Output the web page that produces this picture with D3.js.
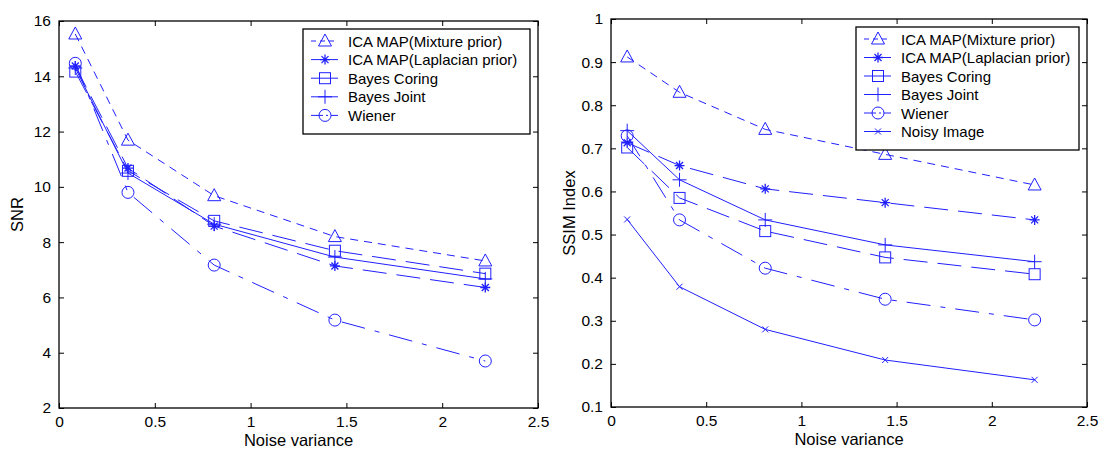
<!DOCTYPE html>
<html>
<head>
<meta charset="utf-8">
<script src="https://cdn.jsdelivr.net/npm/d3@7"></script>
<style>
  body { margin: 0; background: #fff; }
  svg { font-family: "Liberation Sans", Arial, sans-serif; }
</style>
</head>
<body>
<svg id="chart" width="1101" height="450"></svg>
<script>
const BLUE = '#2020ff';

// noise variance (x values, shared by both panels)
const noiseVar = [0.085, 0.36, 0.81, 1.44, 2.225];

// left panel: SNR
const snrMixture   = [15.53, 11.69, 9.68, 8.20, 7.32];
const snrLaplacian = [14.37, 10.68, 8.58, 7.14, 6.36];
const snrCoring    = [14.17, 10.58, 8.77, 7.69, 6.86];
const snrJoint     = [14.30, 10.50, 8.65, 7.46, 6.67];
const snrWiener    = [14.47, 9.80, 7.17, 5.18, 3.70];

// right panel: SSIM index
const ssimMixture   = [0.912, 0.830, 0.744, 0.686, 0.615];
const ssimLaplacian = [0.713, 0.660, 0.606, 0.574, 0.534];
const ssimCoring    = [0.702, 0.585, 0.508, 0.447, 0.408];
const ssimJoint     = [0.741, 0.627, 0.534, 0.476, 0.437];
const ssimWiener    = [0.729, 0.534, 0.422, 0.350, 0.302];
const ssimNoisy     = [0.535, 0.379, 0.280, 0.209, 0.163];

const xTicks = [0, 0.5, 1, 1.5, 2, 2.5];
const snrTicks = [2, 4, 6, 8, 10, 12, 14, 16];
const ssimTicks = [0.1, 0.2, 0.3, 0.4, 0.5, 0.6, 0.7, 0.8, 0.9, 1];

// line style + marker per method
const styles = {
    mixture:   { name: 'ICA MAP(Mixture prior)',   dash: '8,6',         legendDash: '5,4',       marker: 'triangle' },
    laplacian: { name: 'ICA MAP(Laplacian prior)', dash: '24,10',       legendDash: null,        marker: 'star' },
    coring:    { name: 'Bayes Coring',             dash: '24,10',       legendDash: null,        marker: 'square' },
    joint:     { name: 'Bayes Joint',              dash: null,          legendDash: null,        marker: 'plus' },
    wiener:    { name: 'Wiener',                   dash: '24,10,5,10',  legendDash: '12,3,2,3',  marker: 'circle' },
    noisy:     { name: 'Noisy Image',              dash: null,          legendDash: null,        marker: 'x' }
};

const svg = d3.select('#chart');

function drawMarker(g, type, cx, cy) {
    const m = g.append('g').attr('transform', `translate(${cx},${cy})`)
        .attr('fill', 'none').attr('stroke', BLUE).attr('stroke-width', 1);
    if (type === 'triangle') {
        m.append('path').attr('d', 'M0,-7L6.5,5L-6.5,5Z');
    } else if (type === 'square') {
        m.append('rect').attr('x', -5.5).attr('y', -5.5).attr('width', 11).attr('height', 11);
    } else if (type === 'circle') {
        m.append('circle').attr('r', 6);
    } else if (type === 'plus') {
        m.append('path').attr('d', 'M-7,0H7M0,-7V7');
    } else if (type === 'star') {
        m.append('path').attr('d', 'M-5,0H5M0,-5V5M-3.5,-3.5L3.5,3.5M-3.5,3.5L3.5,-3.5')
            .attr('stroke-width', 1.3);
    } else if (type === 'x') {
        m.append('path').attr('d', 'M-3,-3L3,3M-3,3L3,-3');
    }
}

function panel(opts) {
    const { left, right, top, bottom, yDomain, yTicks, yFmt, ylabel, series, legend } = opts;
    const x = d3.scaleLinear().domain([0, 2.5]).range([left, right]);
    const y = d3.scaleLinear().domain(yDomain).range([bottom, top]);
    const g = svg.append('g');

    // ticks inside the box on all four sides
    const axB = d3.axisBottom(x).tickValues(xTicks).tickSizeInner(-5).tickSizeOuter(0)
        .tickPadding(8).tickFormat(d3.format('~g'));
    const axT = d3.axisTop(x).tickValues(xTicks).tickSizeInner(-5).tickSizeOuter(0).tickFormat('');
    const axL = d3.axisLeft(y).tickValues(yTicks).tickSizeInner(-5).tickSizeOuter(0)
        .tickPadding(8).tickFormat(yFmt);
    const axR = d3.axisRight(y).tickValues(yTicks).tickSizeInner(-5).tickSizeOuter(0).tickFormat('');

    [[axB, `translate(0,${bottom})`], [axT, `translate(0,${top})`],
     [axL, `translate(${left},0)`], [axR, `translate(${right},0)`]].forEach(([ax, tr]) => {
        const a = g.append('g').attr('transform', tr).call(ax);
        a.select('.domain').remove();
        a.selectAll('line').attr('stroke', '#000');
        a.selectAll('text').attr('fill', '#000').style('font-size', '15.5px')
            .style('font-family', '"Liberation Sans", Arial, sans-serif');
    });

    g.append('rect').attr('x', left).attr('y', top)
        .attr('width', right - left).attr('height', bottom - top)
        .attr('fill', 'none').attr('stroke', '#000').attr('stroke-width', 1.3);

    g.append('text').attr('x', (left + right) / 2).attr('y', bottom + 38)
        .attr('text-anchor', 'middle').style('font-size', '16.5px').text('Noise variance');
    g.append('text').attr('transform', `translate(${left - 36},${(top + bottom) / 2}) rotate(-90)`)
        .attr('text-anchor', 'middle').style('font-size', '16.5px').text(ylabel);

    const line = d3.line().x(d => x(d[0])).y(d => y(d[1]));
    series.forEach(s => {
        const st = styles[s.key];
        const pts = noiseVar.map((v, i) => [v, s.values[i]]);
        g.append('path').datum(pts).attr('d', line)
            .attr('fill', 'none').attr('stroke', BLUE).attr('stroke-width', 1)
            .attr('stroke-dasharray', st.dash);
        pts.forEach(p => drawMarker(g, st.marker, x(p[0]), y(p[1])));
    });

    // legend
    const lg = g.append('g');
    const rows = series.length;
    lg.append('rect').attr('x', legend.x).attr('y', legend.y)
        .attr('width', legend.w).attr('height', 12 + rows * legend.step)
        .attr('fill', '#fff').attr('stroke', '#000').attr('stroke-width', 1.3);
    series.forEach((s, i) => {
        const st = styles[s.key];
        const cy = legend.y + 12 + i * legend.step;
        lg.append('line').attr('x1', legend.x + 8).attr('x2', legend.x + 35)
            .attr('y1', cy).attr('y2', cy).attr('stroke', BLUE).attr('stroke-width', 1)
            .attr('stroke-dasharray', st.legendDash);
        drawMarker(lg, st.marker, legend.x + 22, cy);
        lg.append('text').attr('x', legend.x + 45).attr('y', cy + 5.5)
            .style('font-size', '15px').text(st.name);
    });
}

panel({
    left: 59, right: 538, top: 21, bottom: 408,
    yDomain: [2, 16], yTicks: snrTicks, yFmt: d3.format('d'), ylabel: 'SNR',
    series: [
        { key: 'mixture', values: snrMixture },
        { key: 'laplacian', values: snrLaplacian },
        { key: 'coring', values: snrCoring },
        { key: 'joint', values: snrJoint },
        { key: 'wiener', values: snrWiener }
    ],
    legend: { x: 303, y: 29, w: 227, step: 18.6 }
});

panel({
    left: 611, right: 1087, top: 19, bottom: 407,
    yDomain: [0.1, 1], yTicks: ssimTicks, yFmt: d3.format('~g'), ylabel: 'SSIM Index',
    series: [
        { key: 'mixture', values: ssimMixture },
        { key: 'laplacian', values: ssimLaplacian },
        { key: 'coring', values: ssimCoring },
        { key: 'joint', values: ssimJoint },
        { key: 'wiener', values: ssimWiener },
        { key: 'noisy', values: ssimNoisy }
    ],
    legend: { x: 856, y: 27, w: 223, step: 18.5 }
});
</script>
</body>
</html>
